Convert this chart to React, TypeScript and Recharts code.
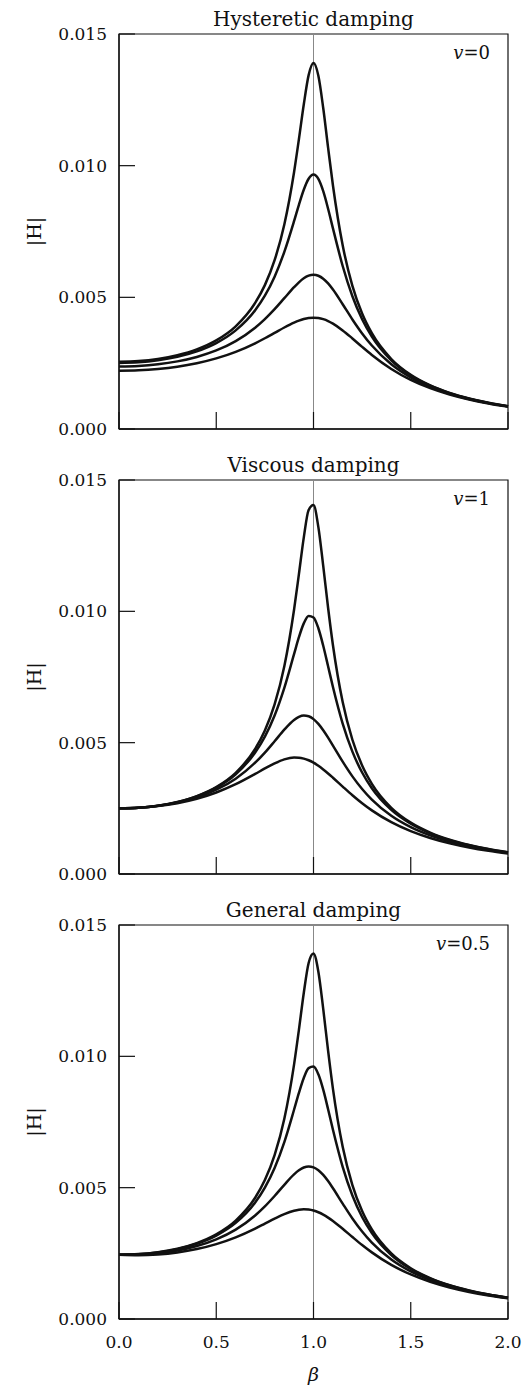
import React from 'react';
import { LineChart, Line, XAxis, YAxis, ReferenceLine, ReferenceArea, Label } from 'recharts';

// frequency ratio samples (denser around resonance)
const BETA = [0, 0.1, 0.2, 0.3, 0.4, 0.5, 0.6, 0.7, 0.75, 0.8, 0.85, 0.9, 0.925, 0.95, 0.975, 1.0, 1.025, 1.05, 1.075, 1.1, 1.15, 1.2, 1.25, 1.3, 1.4, 1.5, 1.6, 1.7, 1.8, 1.9, 2.0];

// Hysteretic damping, v = 0
const HYST_1 = [0.002556, 0.002581, 0.002658, 0.002799, 0.003021, 0.003364, 0.003899, 0.004786, 0.005464, 0.006409, 0.007768, 0.009752, 0.011003, 0.012322, 0.013437, 0.013897, 0.013416, 0.012189, 0.010686, 0.009246, 0.006974, 0.005438, 0.004386, 0.003637, 0.002658, 0.002057, 0.001655, 0.001369, 0.001157, 0.000994, 0.000865];
const HYST_2 = [0.002511, 0.002534, 0.002608, 0.00274, 0.002948, 0.003263, 0.003745, 0.004509, 0.005062, 0.005785, 0.006727, 0.007893, 0.008514, 0.009085, 0.009503, 0.009662, 0.009496, 0.009031, 0.008365, 0.007618, 0.00619, 0.005041, 0.00417, 0.003511, 0.002608, 0.002033, 0.001642, 0.001362, 0.001152, 0.000991, 0.000863];
const HYST_3 = [0.002376, 0.002396, 0.002458, 0.002568, 0.002737, 0.002983, 0.003338, 0.003846, 0.004172, 0.004549, 0.004967, 0.005385, 0.00557, 0.005722, 0.005822, 0.005858, 0.005819, 0.005708, 0.005528, 0.005295, 0.004739, 0.00416, 0.003629, 0.003169, 0.002458, 0.00196, 0.001603, 0.001339, 0.001139, 0.000982, 0.000857];
const HYST_4 = [0.002215, 0.002231, 0.002281, 0.002367, 0.002498, 0.002681, 0.00293, 0.003255, 0.003446, 0.003649, 0.003855, 0.00404, 0.004117, 0.004177, 0.004215, 0.004229, 0.004215, 0.004171, 0.0041, 0.004002, 0.003745, 0.003439, 0.00312, 0.002813, 0.002281, 0.001866, 0.001551, 0.001308, 0.001119, 0.00097, 0.000849];

// Viscous damping, v = 1
const VISC_1 = [0.0025, 0.002525, 0.002602, 0.002743, 0.002966, 0.00331, 0.003853, 0.004762, 0.005466, 0.006458, 0.00791, 0.01006, 0.011416, 0.012808, 0.013855, 0.014046, 0.013205, 0.011728, 0.010137, 0.008707, 0.006545, 0.005111, 0.004133, 0.003435, 0.002521, 0.001956, 0.001576, 0.001306, 0.001105, 0.00095, 0.000828];
const VISC_2 = [0.0025, 0.002524, 0.0026, 0.002737, 0.002954, 0.003286, 0.003798, 0.004625, 0.005233, 0.006036, 0.007089, 0.008371, 0.009014, 0.009541, 0.009826, 0.009766, 0.009355, 0.00869, 0.007908, 0.007117, 0.005725, 0.004659, 0.003863, 0.003263, 0.00244, 0.001912, 0.00155, 0.001289, 0.001093, 0.000942, 0.000821];
const VISC_3 = [0.0025, 0.002523, 0.002594, 0.002721, 0.002917, 0.003208, 0.00363, 0.004237, 0.004622, 0.005054, 0.005496, 0.005864, 0.005981, 0.006032, 0.006004, 0.005896, 0.005713, 0.005472, 0.00519, 0.004887, 0.004276, 0.003716, 0.003235, 0.002831, 0.002215, 0.001783, 0.00147, 0.001236, 0.001056, 0.000915, 0.000802];
const VISC_4 = [0.0025, 0.002521, 0.002585, 0.002697, 0.002865, 0.003102, 0.003418, 0.00381, 0.004018, 0.004211, 0.004362, 0.004433, 0.004429, 0.004394, 0.00433, 0.004237, 0.00412, 0.003981, 0.003828, 0.003665, 0.003328, 0.002999, 0.002695, 0.002423, 0.001974, 0.001632, 0.001371, 0.001168, 0.001008, 0.00088, 0.000776];

// General damping, v = 0.5
const GEN_1 = [0.00245, 0.002471, 0.002544, 0.002677, 0.002891, 0.003223, 0.003744, 0.004615, 0.005288, 0.006235, 0.007621, 0.009685, 0.011009, 0.012413, 0.013555, 0.013915, 0.013221, 0.011807, 0.010214, 0.008761, 0.006556, 0.0051, 0.004111, 0.003409, 0.002494, 0.001931, 0.001555, 0.001287, 0.001088, 0.000935, 0.000814];
const GEN_2 = [0.00245, 0.002467, 0.002534, 0.002661, 0.002864, 0.003176, 0.003658, 0.004432, 0.005, 0.005749, 0.006737, 0.007966, 0.008609, 0.009178, 0.00955, 0.00961, 0.009314, 0.00873, 0.007987, 0.007206, 0.005795, 0.004701, 0.003885, 0.003272, 0.002435, 0.001902, 0.001538, 0.001277, 0.001081, 0.00093, 0.000811];
const GEN_3 = [0.00245, 0.002452, 0.002504, 0.002609, 0.002778, 0.003033, 0.003405, 0.003943, 0.004288, 0.004684, 0.005109, 0.005505, 0.00566, 0.005767, 0.005808, 0.005775, 0.005665, 0.005485, 0.005251, 0.004979, 0.004393, 0.003828, 0.00333, 0.002907, 0.002262, 0.00181, 0.001485, 0.001244, 0.00106, 0.000916, 0.000801];
const GEN_4 = [0.00245, 0.002431, 0.00246, 0.002536, 0.002663, 0.002851, 0.003109, 0.003442, 0.003631, 0.003821, 0.003994, 0.004124, 0.004162, 0.004178, 0.004167, 0.004129, 0.004064, 0.003974, 0.003861, 0.003731, 0.003435, 0.003122, 0.002817, 0.002536, 0.00206, 0.001695, 0.001415, 0.0012, 0.001031, 0.000896, 0.000786];

const Y_TICKS = [0, 0.005, 0.01, 0.015];
const X_TICKS = [0, 0.5, 1, 1.5, 2];

const FONT = '"DejaVu Serif", serif';
const INK = '#111';

const toRows = (series: number[][]) =>
  BETA.map((b, i) => ({ beta: b, s1: series[0][i], s2: series[1][i], s3: series[2][i], s4: series[3][i] }));

// ticks point inward, labels sit outside
const YTick = (props: any) => {
  const { x, y, payload } = props;
  return (
    <g>
      <line x1={x} x2={x + 16} y1={y} y2={y} stroke={INK} strokeWidth={1.2} />
      <text x={x - 12} y={y} dy="0.36em" textAnchor="end" fontFamily={FONT} fontSize={17} fill={INK}>
        {payload.value.toFixed(3)}
      </text>
    </g>
  );
};

const makeXTick = (showLabels: boolean) => (props: any) => {
  const { x, y, payload } = props;
  return (
    <g>
      <line x1={x} x2={x} y1={y} y2={y - 17} stroke={INK} strokeWidth={1.2} />
      {showLabels && (
        <text x={x} y={y + 29} textAnchor="middle" fontFamily={FONT} fontSize={17} fill={INK}>
          {payload.value.toFixed(1)}
        </text>
      )}
    </g>
  );
};

const Decor = ({ viewBox, title, nu, showBeta }: any) => {
  const { x, y, width, height } = viewBox;
  const cy = y + height / 2;
  return (
    <g fontFamily={FONT} fill={INK}>
      <text x={x + width / 2} y={y - 8} textAnchor="middle" fontSize={20}>{title}</text>
      <text x={x + width - 18} y={y + 25} textAnchor="end" fontSize={18}>
        <tspan fontStyle="italic">v</tspan>={nu}
      </text>
      <text x={x - 78} y={cy} textAnchor="middle" fontSize={19} transform={`rotate(-90, ${x - 78}, ${cy})`}>|H|</text>
      {showBeta && (
        <text x={x + width / 2} y={y + height + 62} textAnchor="middle" fontSize={19} fontStyle="italic">β</text>
      )}
    </g>
  );
};

interface PanelProps {
  top: number;
  height: number;
  xAxisHeight: number;
  title: string;
  nu: string;
  series: number[][];
  last?: boolean;
}

const Panel = ({ top, height, xAxisHeight, title, nu, series, last }: PanelProps) => {
  const rows = toRows(series);
  return (
    <div style={{ position: 'absolute', left: 0, top, width: 527, height }}>
      <LineChart width={527} height={height} data={rows} margin={{ top: 34, right: 19, bottom: 0, left: 0 }}>
        <XAxis
          dataKey="beta"
          type="number"
          domain={[0, 2]}
          ticks={X_TICKS}
          interval={0}
          height={xAxisHeight}
          tickSize={0}
          tickMargin={0}
          tickLine={false}
          axisLine={{ stroke: INK, strokeWidth: 1.3 }}
          tick={makeXTick(!!last)}
        />
        <YAxis
          type="number"
          domain={[0, 0.015]}
          ticks={Y_TICKS}
          interval={0}
          width={119}
          tickSize={0}
          tickMargin={0}
          tickLine={false}
          axisLine={{ stroke: INK, strokeWidth: 1.3 }}
          tick={<YTick />}
        />
        <ReferenceLine x={1} stroke="#888" strokeWidth={1} />
        <ReferenceArea x1={0} x2={2} y1={0} y2={0.015} fill="none" stroke={INK} strokeWidth={1.2}>
          <Label content={(p: any) => <Decor viewBox={p.viewBox} title={title} nu={nu} showBeta={!!last} />} />
        </ReferenceArea>
        {['s1', 's2', 's3', 's4'].map((k) => (
          <Line key={k} dataKey={k} type="monotone" stroke={INK} strokeWidth={2.5} dot={false} isAnimationActive={false} />
        ))}
      </LineChart>
    </div>
  );
};

export default function App() {
  return (
    <div style={{ position: 'absolute', left: 0, top: 0, width: 527, height: 1391, background: '#fff' }}>
      <Panel top={0} height={445} xAxisHeight={16} title="Hysteretic damping" nu="0" series={[HYST_1, HYST_2, HYST_3, HYST_4]} />
      <Panel top={446} height={444} xAxisHeight={16} title="Viscous damping" nu="1" series={[VISC_1, VISC_2, VISC_3, VISC_4]} />
      <Panel top={891} height={500} xAxisHeight={72} title="General damping" nu="0.5" series={[GEN_1, GEN_2, GEN_3, GEN_4]} last />
    </div>
  );
}
